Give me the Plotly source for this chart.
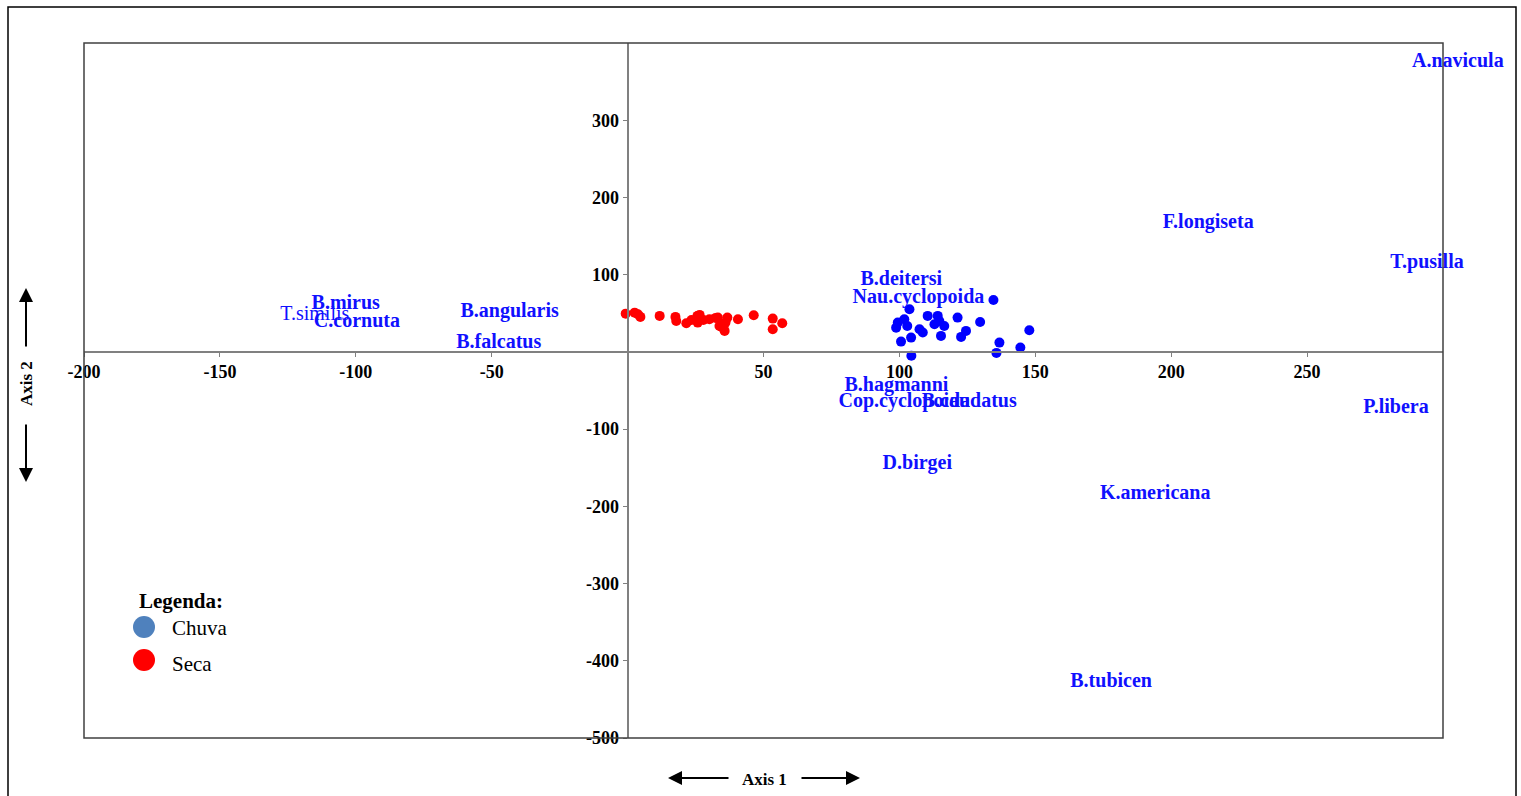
import plotly.graph_objects as go

# Site scores on the first two ordination axes
seca_x = [-0.7, 2.6, 3.8, 4.7, 11.8, 17.6, 17.9, 21.6, 23.5, 25.7, 26.5, 25.8, 27.9,
          30.1, 32.4, 33.2, 33.8, 34.6, 36.7, 36.0, 35.7, 40.6, 46.4, 53.4, 53.4, 56.9]
seca_y = [49.5, 50.8, 48.8, 45.3, 46.6, 45.3, 40.1, 37.1, 41.4, 46.6, 47.9, 37.9, 41.4,
          42.3, 44.0, 44.4, 33.6, 32.3, 44.4, 37.9, 27.2, 42.3, 47.5, 43.1, 29.4, 37.1]

chuva_x = [134.6, 103.7, 110.4, 114.1, 121.4, 99.4, 98.8, 101.8, 102.9, 107.4, 108.6, 112.9, 114.7,
           116.5, 115.3, 129.7, 124.5, 122.7, 147.8, 100.6, 104.3, 136.8, 144.5, 104.4, 135.7]
chuva_y = [67.3, 55.2, 46.6, 46.6, 44.4, 37.9, 31.4, 42.3, 33.6, 29.4, 25.0, 35.8, 40.1,
           33.6, 20.7, 38.8, 27.2, 19.4, 28.1, 13.3, 18.5, 12.0, 5.6, -5.0, -1.3]

# Species scores
species = ["A.navicula", "F.longiseta", "T.pusilla", "B.deitersi", "Nau.cyclopoida",
           "B.mirus", "T.similis", "C.cornuta", "B.angularis", "B.falcatus",
           "B.hagmanni", "Cop.cyclopoida", "B.caudatus", "P.libera", "D.birgei",
           "K.americana", "B.tubicen"]
species_x = [288.6, 213.6, 294.1, 100.7, 107.0, -103.7, -115.1, -99.6, -43.4, -47.4,
             98.9, 101.8, 125.7, 282.7, 106.6, 194.1, 177.9]
species_y = [375.2, 166.9, 115.1, 93.1, 69.9, 62.1, 47.9, 38.8, 51.7, 11.6,
             -44.0, -64.7, -64.7, -72.4, -144.9, -183.7, -426.9]
species_pos = ["middle right"] + ["middle center"] * (len(species) - 1)
species_txt = [s if s == "T.similis" else f"<b>{s}</b>" for s in species]

x_ticks = [-200, -150, -100, -50, 50, 100, 150, 200, 250]
y_ticks = [-500, -400, -300, -200, -100, 100, 200, 300]

SERIF = "Liberation Serif, Times New Roman, serif"
W, H = 1521, 796
L, R, T, B = 84, 78, 43, 58
PW, PH = W - L - R, H - T - B


def px(xp):
    return (xp - L) / PW


def py(yp):
    return (H - B - yp) / PH


fig = go.Figure()

fig.add_trace(go.Scatter(
    x=seca_x, y=seca_y, mode="markers", name="Seca",
    marker=dict(color="#FF0000", size=10), showlegend=False,
))
fig.add_trace(go.Scatter(
    x=chuva_x, y=chuva_y, mode="markers", name="Chuva",
    marker=dict(color="#0000FF", size=10), showlegend=False,
))
fig.add_trace(go.Scatter(
    x=species_x, y=species_y, mode="text", text=species_txt,
    textposition=species_pos, cliponaxis=False,
    textfont=dict(family=SERIF, size=20, color="#1010FF"),
    showlegend=False, hoverinfo="skip",
))

shapes = [
    # plot frame
    dict(type="rect", xref="paper", yref="paper", x0=0, x1=1, y0=0, y1=1,
         line=dict(color="#404040", width=1.5), layer="above"),
    # outer frame
    dict(type="rect", xref="paper", yref="paper", x0=px(8), x1=px(1516), y0=py(820), y1=py(7),
         line=dict(color="#000000", width=1.5)),
    # legend symbols
    dict(type="circle", xref="paper", yref="paper", xsizemode="pixel", ysizemode="pixel",
         xanchor=px(144), yanchor=py(627), x0=-11, x1=11, y0=-11, y1=11,
         fillcolor="#4F81BD", line=dict(width=0)),
    dict(type="circle", xref="paper", yref="paper", xsizemode="pixel", ysizemode="pixel",
         xanchor=px(144), yanchor=py(660), x0=-11, x1=11, y0=-11, y1=11,
         fillcolor="#FF0000", line=dict(width=0)),
]

arrow = dict(text="", showarrow=True, arrowhead=2, arrowsize=1.4, arrowwidth=2,
             arrowcolor="#000000", xref="paper", yref="paper", axref="pixel", ayref="pixel")
label = dict(xref="paper", yref="paper", showarrow=False, yanchor="middle")
annotations = [
    dict(text="<b>Axis 1</b>", x=px(764), y=py(779), xanchor="center",
         font=dict(family=SERIF, size=17, color="#000"), **label),
    dict(x=px(668), y=py(778), ax=62, ay=0, **arrow),
    dict(x=px(860), y=py(778), ax=-60, ay=0, **arrow),
    dict(text="<b>Axis 2</b>", x=px(26), y=py(384), xanchor="center", textangle=-90,
         font=dict(family=SERIF, size=17, color="#000"), **label),
    dict(x=px(26), y=py(288), ax=0, ay=60, **arrow),
    dict(x=px(26), y=py(482), ax=0, ay=-59, **arrow),
    dict(text="<b>Legenda:</b>", x=px(137), y=py(601), xanchor="left",
         font=dict(family=SERIF, size=21, color="#000"), **label),
    dict(text="Chuva", x=px(170), y=py(628), xanchor="left",
         font=dict(family=SERIF, size=21, color="#000"), **label),
    dict(text="Seca", x=px(170), y=py(664), xanchor="left",
         font=dict(family=SERIF, size=21, color="#000"), **label),
]

x_zero = (0 - (-200)) / (300 - (-200))
y_zero = (0 - (-500)) / (400 - (-500))

tick_font = dict(family=SERIF, size=18, color="#000", weight="bold")
fig.update_layout(
    width=W, height=H,
    margin=dict(l=L, r=R, t=T, b=B),
    paper_bgcolor="white", plot_bgcolor="white",
    showlegend=False,
    xaxis=dict(range=[-200, 300], anchor="free", position=y_zero,
               showgrid=False, zeroline=False, showline=True,
               linecolor="#808080", linewidth=2,
               tickvals=x_ticks, ticktext=[str(v) for v in x_ticks],
               ticks="outside", ticklen=4, tickcolor="#808080",
               tickfont=tick_font),
    yaxis=dict(range=[-500, 400], anchor="free", position=x_zero,
               showgrid=False, zeroline=False, showline=True,
               linecolor="#808080", linewidth=2,
               tickvals=y_ticks, ticktext=[str(v) for v in y_ticks],
               ticks="outside", ticklen=4, tickcolor="#808080",
               tickfont=tick_font),
    shapes=shapes,
    annotations=annotations,
)

fig.write_html("out.html")
